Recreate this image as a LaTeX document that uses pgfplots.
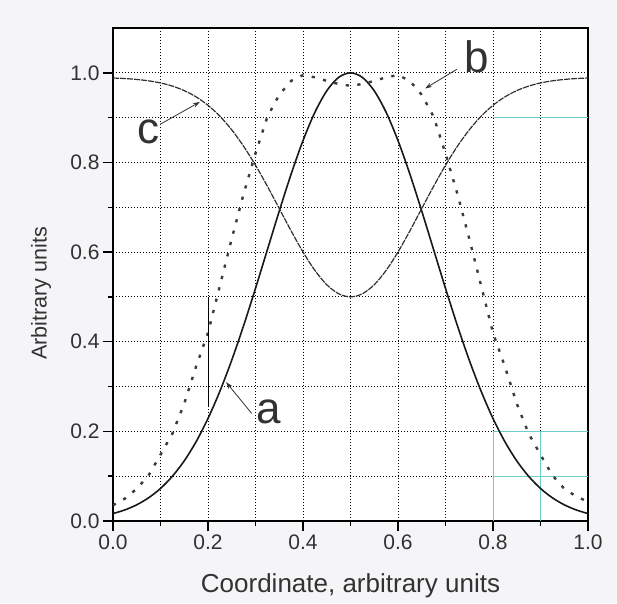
\documentclass[border=0pt]{standalone}
\usepackage{fontspec}
\setmainfont{Liberation Sans}
\usepackage{pgfplots}
\pgfplotsset{compat=1.18}
\usetikzlibrary{arrows.meta}

\definecolor{pagebg}{RGB}{245,245,248}
\definecolor{txt}{RGB}{50,50,50}
\definecolor{curve}{RGB}{25,25,25}
\definecolor{teal}{RGB}{110,205,200}

% Profile a: bell-shaped intensity
\pgfplotstableread{
x y
0.000 0.0166
0.025 0.0247
0.050 0.0362
0.075 0.0518
0.100 0.0726
0.125 0.0998
0.150 0.1342
0.175 0.1770
0.200 0.2287
0.225 0.2895
0.250 0.3589
0.275 0.4361
0.300 0.5191
0.325 0.6053
0.350 0.6915
0.375 0.7740
0.400 0.8488
0.425 0.9119
0.450 0.9598
0.475 0.9898
0.500 1.0000
0.525 0.9898
0.550 0.9598
0.575 0.9119
0.600 0.8488
0.625 0.7740
0.650 0.6915
0.675 0.6053
0.700 0.5191
0.725 0.4361
0.750 0.3589
0.775 0.2895
0.800 0.2287
0.825 0.1770
0.850 0.1342
0.875 0.0998
0.900 0.0726
0.925 0.0518
0.950 0.0362
0.975 0.0247
1.000 0.0166
}\tabA

% Profile b: flat-topped
\pgfplotstableread{
x y
0.000 0.035
0.025 0.050
0.050 0.072
0.075 0.102
0.100 0.148
0.125 0.195
0.150 0.262
0.175 0.345
0.200 0.420
0.225 0.525
0.250 0.630
0.275 0.730
0.300 0.820
0.325 0.902
0.350 0.951
0.375 0.982
0.400 0.995
0.425 0.990
0.450 0.982
0.475 0.975
0.500 0.971
0.525 0.975
0.550 0.982
0.575 0.990
0.600 0.995
0.625 0.982
0.650 0.951
0.675 0.902
0.700 0.820
0.725 0.730
0.750 0.630
0.775 0.525
0.800 0.420
0.825 0.345
0.850 0.262
0.875 0.195
0.900 0.148
0.925 0.102
0.950 0.072
0.975 0.055
1.000 0.043
}\tabB

% Profile c: inverted dip
\pgfplotstableread{
x y
0.000 0.9884
0.025 0.9872
0.050 0.9852
0.075 0.9821
0.100 0.9774
0.125 0.9704
0.150 0.9603
0.175 0.9463
0.200 0.9275
0.225 0.9032
0.250 0.8727
0.275 0.8361
0.300 0.7938
0.325 0.7469
0.350 0.6972
0.375 0.6473
0.400 0.6002
0.425 0.5592
0.450 0.5272
0.475 0.5070
0.500 0.5000
0.525 0.5070
0.550 0.5272
0.575 0.5592
0.600 0.6002
0.625 0.6473
0.650 0.6972
0.675 0.7469
0.700 0.7938
0.725 0.8361
0.750 0.8727
0.775 0.9032
0.800 0.9275
0.825 0.9463
0.850 0.9603
0.875 0.9704
0.900 0.9774
0.925 0.9821
0.950 0.9852
0.975 0.9872
1.000 0.9884
}\tabC

\begin{document}
\begin{tikzpicture}
\fill[pagebg] (-113pt,-82pt) rectangle (504pt,521pt);
\begin{axis}[
  at={(0pt,0pt)}, anchor=south west,
  width=475pt, height=493pt, scale only axis,
  xmin=0, xmax=1, ymin=0, ymax=1.1,
  axis background/.style={fill=white},
  xtick={0,0.2,0.4,0.6,0.8,1.0},
  ytick={0,0.2,0.4,0.6,0.8,1.0},
  minor xtick={0.1,0.3,0.5,0.7,0.9},
  minor ytick={0.1,0.3,0.5,0.7,0.9},
  grid=both,
  major grid style={black, line width=1pt, dash pattern=on 1pt off 2pt},
  minor grid style={black, line width=1pt, dash pattern=on 1pt off 2pt},
  tick align=outside, xtick pos=bottom, ytick pos=left,
  major tick length=10pt, minor tick length=5pt,
  tick style={black, line width=1.5pt},
  axis line style={black, line width=1.8pt},
  ticklabel style={font=\fontsize{21}{21}\selectfont, text=txt},
  /pgf/number format/.cd, fixed, fixed zerofill, precision=1, assume math mode=true,
  /pgfplots/.cd,
  xlabel={Coordinate, arbitrary units},
  ylabel={Arbitrary units},
  xlabel style={font=\fontsize{26}{26}\selectfont, text=txt,
    at={(axis description cs:0.5,-0.146)}, anchor=base},
  ylabel style={font=\fontsize{21.5}{21.5}\selectfont, text=txt,
    at={(axis description cs:-0.1396,0.462)}, anchor=base},
]
% faint cyan traces along some grid lines
\addplot[teal, line width=0.8pt, forget plot] coordinates {(0.8,0) (0.8,0.2)};
\addplot[teal, line width=0.8pt, forget plot] coordinates {(0.9,0) (0.9,0.2)};
\addplot[teal, line width=0.8pt, forget plot] coordinates {(0.8,0.1) (1.0,0.1)};
\addplot[teal, line width=0.8pt, forget plot] coordinates {(0.8,0.2) (1.0,0.2)};
\addplot[teal, line width=0.8pt, forget plot] coordinates {(0.8,0.9) (1.0,0.9)};

% curves
\addplot[curve, line width=1.6pt, smooth] table[x=x, y=y] {\tabA};
\addplot[curve!85, line width=2.4pt, dash pattern=on 3.2pt off 8.5pt] table[x=x, y=y] {\tabB};
\addplot[curve!90, line width=1.2pt, smooth, dash pattern=on 6pt off 1pt] table[x=x, y=y] {\tabC};
\addplot[black, line width=0.9pt] coordinates {(0.2,0.255) (0.2,0.5)};

% curve labels with pointers
\node[anchor=base, font=\fontsize{44}{44}\selectfont, text=txt] at (axis cs:0.074,0.843) {c};
\node[anchor=base, font=\fontsize{44}{44}\selectfont, text=txt] at (axis cs:0.765,1.0) {b};
\node[anchor=base, font=\fontsize{44}{44}\selectfont, text=txt] at (axis cs:0.327,0.218) {a};
\draw[txt, line width=0.8pt, -{Stealth[length=7pt,width=4.5pt]}] (axis cs:0.099,0.885) -- (axis cs:0.183,0.935);
\draw[txt, line width=0.8pt, -{Stealth[length=7pt,width=4.5pt]}] (axis cs:0.724,1.008) -- (axis cs:0.657,0.965);
\draw[txt, line width=0.8pt, -{Stealth[length=7pt,width=4.5pt]}] (axis cs:0.292,0.240) -- (axis cs:0.238,0.310);
\end{axis}
\end{tikzpicture}
\end{document}
